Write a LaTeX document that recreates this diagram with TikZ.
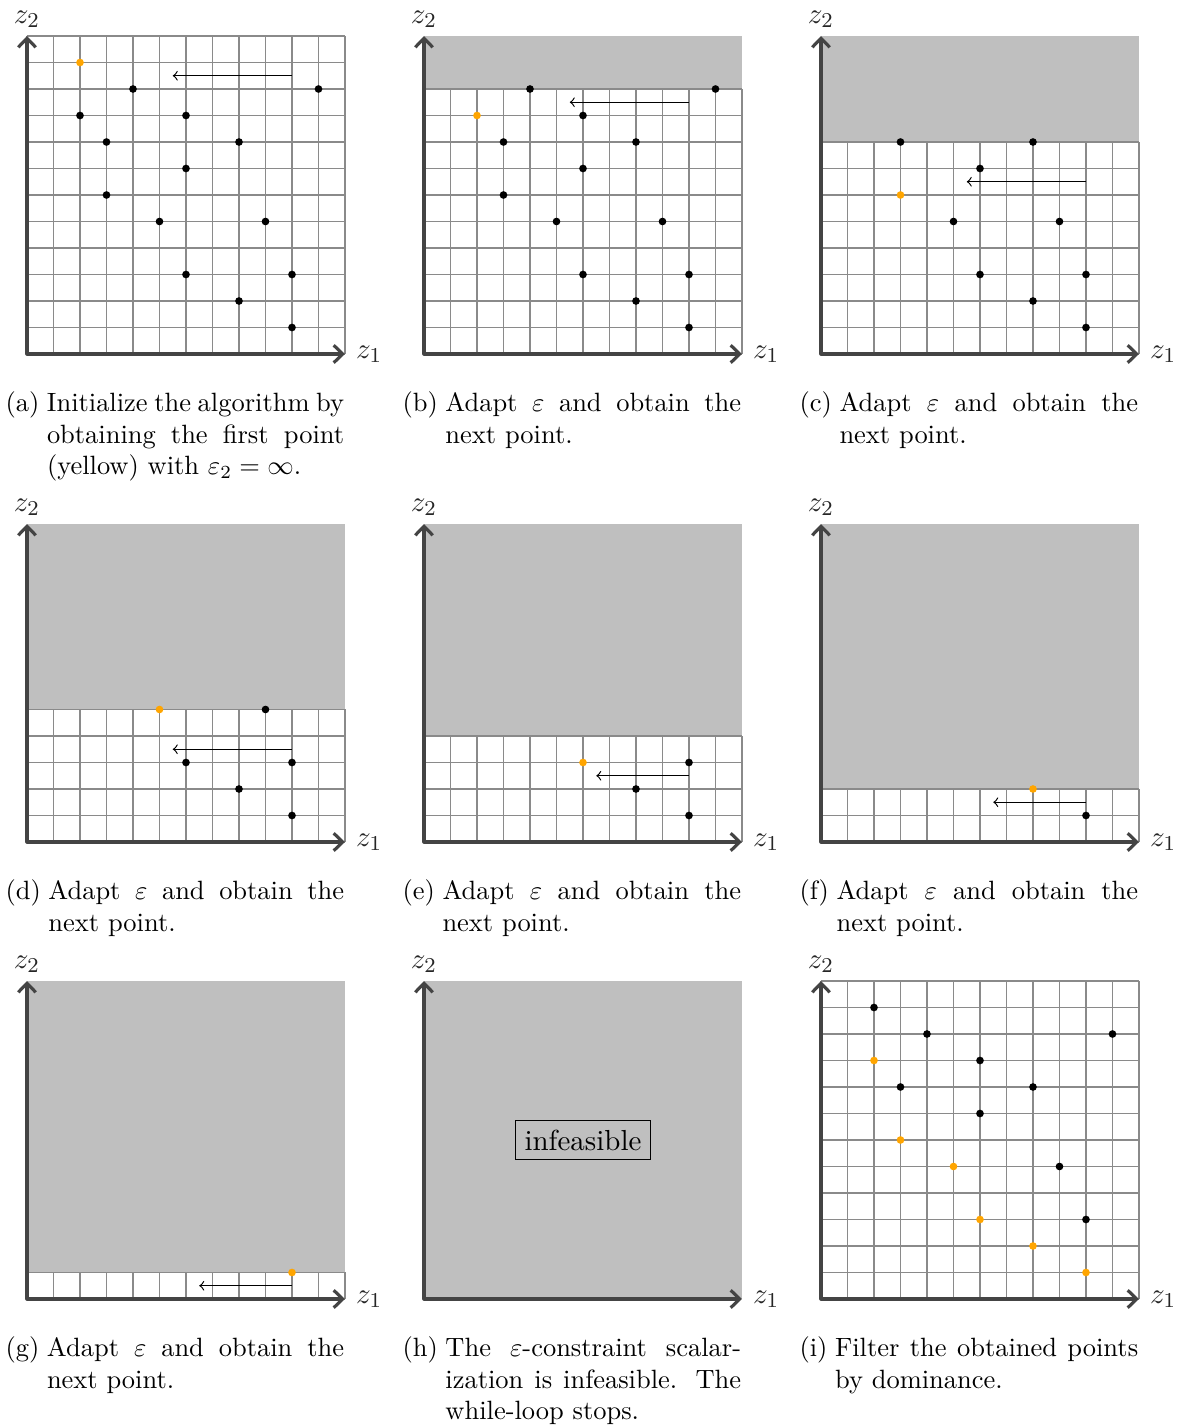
\documentclass[tikz,border=0pt]{standalone}
\usetikzlibrary{arrows.meta}
\definecolor{newpt}{HTML}{FFA500}
\definecolor{axisgray}{HTML}{444444}
\definecolor{shadegray}{HTML}{BFBFBF}
\definecolor{gridgray}{HTML}{8A8A8A}
\tikzset{
  infeas/.style={fill=shadegray},
  gridl/.style={draw=gridgray, line width=0.45pt},
  axisline/.style={draw=axisgray, line width=1.2pt, line join=round, >={Straight Barb[length=3.4pt,width=6.6pt]}, <->},
  axlab/.style={text=black!85, inner sep=4pt, font=\fontsize{10.95}{13}\selectfont},
  dot/.style={circle, fill=black, draw=none, inner sep=0pt, minimum size=2.9pt},
  newdot/.style={circle, fill=newpt, draw=none, inner sep=0pt, minimum size=2.9pt},
  sweeparrow/.style={draw=black, line width=0.45pt, >=to, ->},
  capt/.style={inner sep=0pt, anchor=base west},
  infbox/.style={draw=black, line width=0.45pt, fill=shadegray, font=\fontsize{10.95}{13}\selectfont, inner sep=3.3pt}
}
\newcommand\panel[5]{%
  \begin{scope}[shift={(#2,#3)}, x=10.017pt, y=10.017pt]
    \ifdim #4pt<12pt \fill[infeas] (0,#4) rectangle (12,12);\fi
    \ifdim #4pt>0pt
      \foreach \gx in {0,...,12} {\draw[gridl] (\gx,0) -- (\gx,#4);}
      \foreach \gy in {0,...,#4} {\draw[gridl] (0,\gy) -- (12,\gy);}
    \fi
    \coordinate (#1-o) at (0,0);
    \coordinate (#1-x) at (12,0);
    \coordinate (#1-y) at (0,12);
    \draw[axisline] (#1-x) -- (#1-o) -- (#1-y);
    \node[axlab, right] (#1-z1) at (#1-x) {$z_1$};
    \node[axlab, above, inner sep=3pt] (#1-z2) at (#1-y) {$z_2$};
    #5
  \end{scope}
}
\newcommand\blackpts[2]{\foreach \px/\py [count=\i] in {#2} {\node[dot] (#1-b\i) at (\px,\py) {};}}
\newcommand\orangepts[2]{\foreach \px/\py [count=\i] in {#2} {\node[newdot] (#1-n\i) at (\px,\py) {};}}
\newcommand\sweep[4]{\coordinate (#1-s) at (#3,#2); \coordinate (#1-t) at (#4,#2); \draw[sweeparrow] (#1-s) -- (#1-t);}
\newcommand\captxt[2]{\parbox[t]{128pt}{\setbox0=\hbox{(#1)\kern2.9pt}\noindent\hangindent=\wd0\relax\hangafter=1\relax\box0 #2}}
\newcommand\capnode[4]{\node[capt] (#1-cap) at ({#2-22},{#3-57.5}) {\captxt{#1}{#4}};}
\begin{document}
\begin{tikzpicture}[x=0.378pt, y=0.378pt]
\useasboundingbox (0,0) rectangle (1179,1428);
% row 1
\panel{a}{27}{1074}{12}{%
  \blackpts{a}{4/10,11/10,2/9,6/9,3/8,8/8,6/7,3/6,5/5,9/5,6/3,10/3,8/2,10/1}
  \orangepts{a}{2/11}
  \sweep{a}{10.5}{10}{5.5}}
\capnode{a}{27}{1074}{Initialize the algorithm by\linebreak obtaining the first point\linebreak (yellow) with $\varepsilon_2=\infty$.}
\panel{b}{424}{1074}{10}{%
  \blackpts{b}{4/10,11/10,6/9,3/8,8/8,6/7,3/6,5/5,9/5,6/3,10/3,8/2,10/1}
  \orangepts{b}{2/9}
  \sweep{b}{9.5}{10}{5.5}}
\capnode{b}{424}{1074}{Adapt $\varepsilon$ and obtain the\linebreak next point.}
\panel{c}{821}{1074}{8}{%
  \blackpts{c}{3/8,8/8,6/7,5/5,9/5,6/3,10/3,8/2,10/1}
  \orangepts{c}{3/6}
  \sweep{c}{6.5}{10}{5.5}}
\capnode{c}{821}{1074}{Adapt $\varepsilon$ and obtain the\linebreak next point.}
% row 2
\panel{d}{27}{586}{5}{%
  \blackpts{d}{9/5,6/3,10/3,8/2,10/1}
  \orangepts{d}{5/5}
  \sweep{d}{3.5}{10}{5.5}}
\capnode{d}{27}{586}{Adapt $\varepsilon$ and obtain the\linebreak next point.}
\panel{e}{424}{586}{4}{%
  \blackpts{e}{10/3,8/2,10/1}
  \orangepts{e}{6/3}
  \sweep{e}{2.5}{10}{6.5}}
\capnode{e}{424}{586}{Adapt $\varepsilon$ and obtain the\linebreak next point.}
\panel{f}{821}{586}{2}{%
  \blackpts{f}{10/1}
  \orangepts{f}{8/2}
  \sweep{f}{1.5}{10}{6.5}}
\capnode{f}{821}{586}{Adapt $\varepsilon$ and obtain the\linebreak next point.}
% row 3
\panel{g}{27}{129}{1}{%
  \orangepts{g}{10/1}
  \sweep{g}{0.5}{10}{6.5}}
\capnode{g}{27}{129}{Adapt $\varepsilon$ and obtain the\linebreak next point.}
\panel{h}{424}{129}{0}{%
  \node[infbox] (h-inf) at (6,6) {infeasible};}
\capnode{h}{424}{129}{The $\varepsilon$-constraint scalar-\linebreak ization is infeasible. The\linebreak while-loop stops.}
\panel{i}{821}{129}{12}{%
  \blackpts{i}{2/11,4/10,11/10,6/9,3/8,8/8,6/7,9/5,10/3}
  \orangepts{i}{2/9,3/6,5/5,6/3,8/2,10/1}}
\capnode{i}{821}{129}{Filter the obtained points\linebreak by dominance.}
\end{tikzpicture}
\end{document}
